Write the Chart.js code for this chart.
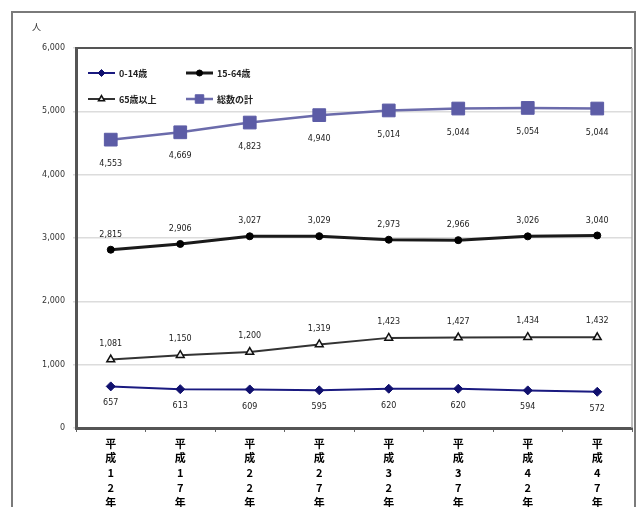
<!DOCTYPE html>
<html>
<head>
<meta charset="utf-8">
<script src="https://cdn.jsdelivr.net/npm/chart.js"></script>
<style>
  html, body { margin: 0; padding: 0; background: #fff; }
  #wrap { width: 642px; height: 507px; }
</style>
</head>
<body>
<div id="wrap"><canvas id="popChart" width="642" height="507"></canvas></div>
<script>
// Chart data
const years = ["12", "17", "22", "27", "32", "37", "42", "47"];
const age0to14 = [657, 613, 609, 595, 620, 620, 594, 572];
const age15to64 = [2815, 2906, 3027, 3029, 2973, 2966, 3026, 3040];
const age65plus = [1081, 1150, 1200, 1319, 1423, 1427, 1434, 1432];
const totalPop = [4553, 4669, 4823, 4940, 5014, 5044, 5054, 5044];
const yTicks = [0, 1000, 2000, 3000, 4000, 5000, 6000];

// Vertical labels: one character per line
const xLabels = years.map((y) => ["平", "成", y[0], y[1], "年"]);

// Frame, axis box, unit label, legend and value labels
const decorPlugin = {
  id: "decor",
  beforeDraw(chart) {
    const ctx = chart.ctx;
    ctx.save();
    ctx.fillStyle = "#fff";
    ctx.fillRect(0, 0, chart.width, chart.height);
    ctx.strokeStyle = "#7a7a7a";
    ctx.lineWidth = 2;
    ctx.strokeRect(12, 12, 623, 520);
    ctx.restore();
  },
  afterDatasetsDraw(chart) {
    const ctx = chart.ctx;
    const area = chart.chartArea;
    ctx.save();
    // top and right edge of plot box
    ctx.strokeStyle = "#555";
    ctx.lineWidth = 2;
    ctx.beginPath();
    ctx.moveTo(area.left, area.top);
    ctx.lineTo(area.right, area.top);
    ctx.stroke();
    ctx.strokeStyle = "#aaa";
    ctx.lineWidth = 1.5;
    ctx.beginPath();
    ctx.moveTo(area.right, area.top);
    ctx.lineTo(area.right, area.bottom);
    ctx.stroke();

    // unit label
    ctx.fillStyle = "#333";
    ctx.font = "9px 'Noto Sans CJK JP'";
    ctx.textAlign = "left";
    ctx.textBaseline = "middle";
    ctx.fillText("人", 32, 27);

    // value labels
    ctx.font = "8px 'DejaVu Sans'";
    ctx.textAlign = "center";
    ctx.fillStyle = "#222";
    const offsets = [17, -15, -16, 24];
    chart.data.datasets.forEach((ds, i) => {
      const meta = chart.getDatasetMeta(i);
      meta.data.forEach((pt, j) => {
        ctx.fillText(ds.data[j].toLocaleString("en-US"), pt.x, pt.y + offsets[i]);
      });
    });

    // legend inside plot
    const items = [
      { ds: 0, x: 88, y: 73, r: 3.5 },
      { ds: 1, x: 186, y: 73, r: 3 },
      { ds: 2, x: 88, y: 99, r: 3.5 },
      { ds: 3, x: 186, y: 99, r: 6 },
    ];
    ctx.font = "bold 9px 'Noto Sans CJK JP'";
    ctx.textAlign = "left";
    items.forEach((it) => {
      const ds = chart.data.datasets[it.ds];
      ctx.strokeStyle = ds.borderColor;
      ctx.lineWidth = ds.borderWidth;
      ctx.beginPath();
      ctx.moveTo(it.x, it.y);
      ctx.lineTo(it.x + 27, it.y);
      ctx.stroke();
      ctx.fillStyle = ds.pointBackgroundColor;
      ctx.strokeStyle = ds.pointBorderColor;
      ctx.lineWidth = ds.pointBorderWidth || 1;
      Chart.helpers.drawPoint(ctx, {
        pointStyle: ds.pointStyle,
        radius: it.r,
        borderWidth: ds.pointBorderWidth || 1,
      }, it.x + 13.5, it.y);
      ctx.fillStyle = "#222";
      ctx.fillText(ds.label, it.x + 31, it.y + 1);
    });
    ctx.restore();
  },
};

const ctx = document.getElementById("popChart").getContext("2d");

new Chart(ctx, {
  type: "line",
  data: {
    labels: xLabels,
    datasets: [
      {
        label: "0-14歳",
        data: age0to14,
        borderColor: "#1a1a80",
        borderWidth: 2,
        pointStyle: "rectRot",
        pointRadius: 4.5,
        pointBackgroundColor: "#10106e",
        pointBorderColor: "#10106e",
        pointBorderWidth: 1,
        tension: 0,
      },
      {
        label: "15-64歳",
        data: age15to64,
        borderColor: "#1a1a1a",
        borderWidth: 3,
        pointStyle: "circle",
        pointRadius: 3.5,
        pointBackgroundColor: "#000",
        pointBorderColor: "#000",
        pointBorderWidth: 1,
        tension: 0,
      },
      {
        label: "65歳以上",
        data: age65plus,
        borderColor: "#333",
        borderWidth: 2,
        pointStyle: "triangle",
        pointRadius: 4.5,
        pointBackgroundColor: "#eee",
        pointBorderColor: "#111",
        pointBorderWidth: 1.5,
        tension: 0,
      },
      {
        label: "総数の計",
        data: totalPop,
        borderColor: "#6b6bab",
        borderWidth: 2.5,
        pointStyle: "rect",
        pointRadius: 9,
        pointBackgroundColor: "#5c5ca6",
        pointBorderColor: "#5c5ca6",
        pointBorderWidth: 1,
        tension: 0,
      },
    ],
  },
  options: {
    responsive: false,
    animation: false,
    layout: { padding: { left: 0, top: 48, right: 10, bottom: 0 } },
    plugins: {
      legend: { display: false },
      tooltip: { enabled: false },
    },
    scales: {
      x: {
        offset: true,
        grid: {
          display: true,
          offset: true,
          drawOnChartArea: false,
          drawTicks: true,
          tickLength: 4,
          color: "#666",
        },
        border: { display: true, color: "#555", width: 3 },
        ticks: {
          color: "#000",
          padding: 4,
          maxRotation: 0,
          autoSkip: false,
          font: { family: "'Noto Sans CJK JP'", size: 11, weight: "bold", lineHeight: 1.35 },
        },
        afterFit: (scale) => {
          scale.height = 79;
        },
      },
      y: {
        min: 0,
        max: 6000,
        afterBuildTicks: (scale) => {
          scale.ticks = yTicks.map((v) => ({ value: v }));
        },
        grid: {
          color: "#dcdcdc",
          lineWidth: 1.5,
          tickLength: 3,
          drawTicks: true,
        },
        border: { display: true, color: "#555", width: 3 },
        ticks: {
          color: "#333",
          padding: 8,
          font: { family: "'DejaVu Sans'", size: 8 },
          callback: (v) => v.toLocaleString("en-US"),
        },
        afterFit: (scale) => {
          scale.width = 76;
        },
      },
    },
  },
  plugins: [decorPlugin],
});
</script>
</body>
</html>
